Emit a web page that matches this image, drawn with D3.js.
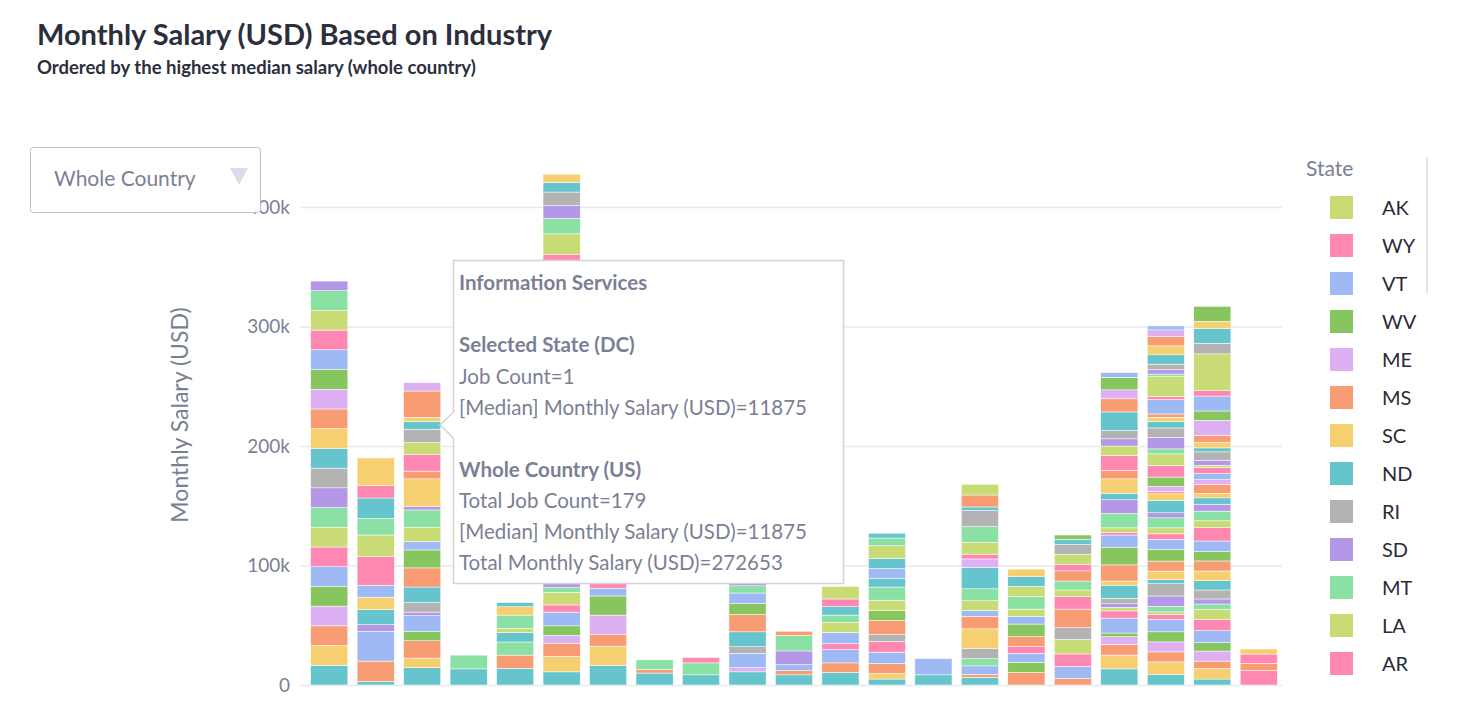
<!doctype html>
<html lang=en>
<head>
  <meta charset=utf-8>
  <title>Monthly Salary (USD) Based on Industry</title>
  <style>
    html, body { margin: 0; background: #fff; }
    body { font-family: Lato, "Noto Sans", sans-serif; }
    svg text { font-family: Lato, "Noto Sans", sans-serif; }
    .tick text { fill: #7b7f95; font-size: 19px; }
  </style>
  <script src="https://cdn.jsdelivr.net/npm/d3@7"></script>
</head>
<body>
<svg id=chart width=1458 height=723></svg>
<script>
  // trace order of states (bottom of stack first); colour cycles through the palette
  const states = ['CA','NY','TX','WA','MA','IL','NJ','VA','FL','GA','PA',
    'NC','CO','MD','OH','MI','MN','AZ','OR','TN','DC','UT',
    'WI','MO','IN','CT','KY','NV','OK','IA','KS','NE','AL',
    'NM','ID','NH','DE','HI','PR','AR','LA','MT','SD','RI',
    'ND','SC','MS','ME','WV','VT','WY','AK']
  const palette = ['#66c5cc','#f6cf71','#f89c74','#dcb0f2','#87c55f','#9eb9f3',
    '#fe88b1','#c9db74','#8be0a4','#b497e7','#b3b3b3']

  const industries = ['Legal','Pharmaceuticals','Information Services','Utilities',
    'Aerospace','Computer Software','Financial Services','Mining','Biotechnology',
    'Management Consulting','Research','Hardware','Internet','Oil & Energy',
    'Telecommunications','Semiconductors','Insurance','Banking','Health Care',
    'Information Technology','Education']

  const yTicks = [0, 100, 200, 300, 400]

  // [state, monthly salary in thousands USD], per industry
  const b1 = [['CA',16.5],['NY',16.5],['TX',16.5],['WA',16.5],['MA',16.5],['IL',16.5],['NJ',16.5],
    ['VA',16.5],['FL',16.5],['GA',16.5],['PA',16.5],['NC',16.5],['CO',16.5],['MD',16.5],['OH',16.5],
    ['MI',16.5],['MN',16.5],['AZ',16.5],['OR',16.5],['TN',16.5],['DC',8]]
  const b2 = [['CA',3],['TX',17],['IL',25],['GA',5.5],['NC',12.5],['CO',10.5],['MN',10],['AZ',24],
    ['OR',18],['TN',14],['WI',17],['OK',10.5],['ID',23]]
  const b3 = [['CA',14.5],['NY',8],['TX',14.5],['MA',8],['IL',13],['GA',3],['PA',8],['NC',13],
    ['MD',16],['MI',15],['MN',7],['OR',12],['TN',14.5],['DC',3],['MO',23],['IN',6.5],['OK',14],
    ['IA',10],['AL',11],['NM',6.5],['ID',3.5],['NH',22],['DE',7]]
  const b4 = [['CA',13.5],['FL',11.5]]
  const b5 = [['CA',14],['TX',11],['FL',11],['NC',8],['OR',3.5],['TN',11],['MO',7],['NM',3.5]]
  const b6 = [['CA',11],['NY',13],['TX',11],['WA',6.5],['MA',8],['IL',11.5],['NJ',6],['VA',10.5],
    ['FL',4],['GA',12],['PA',14],['NC',18],['CO',15],['MD',20],['OH',12],['MI',18],['MN',16],
    ['AZ',14],['OR',16],['TN',14],['DC',18],['UT',12],['WI',20],['MO',14],['IN',18],['CT',23],
    ['OK',5],['IA',17],['KS',13],['NE',11],['AL',11],['NM',8],['ID',7]]
  const b7 = [['CA',16.5],['NY',16],['TX',10],['WA',16],['MA',16],['IL',6.5],['NJ',12],['VA',10]]
  const b8 = [['CA',10],['TX',3],['FL',8]]
  const b9 = [['CA',8.5],['FL',10],['AZ',4.5]]
  const b10 = [['CA',11],['WA',3.5],['IL',12],['PA',5.5],['NC',12.5],['MD',14.5],['MI',9],['MN',9],
    ['TN',6],['DC',8],['UT',6]]
  const b11 = [['CA',8.5],['TX',3.5],['IL',5],['GA',11.5],['TN',13],['IN',3.5]]
  const b12 = [['CA',10.5],['TX',8],['IL',11],['NJ',5],['MN',9.5],['OR',8.5],['TN',6],['WI',7],
    ['OK',6.5],['IA',10.5]]
  const b13 = [['CA',5],['NY',4.5],['TX',8.5],['IL',9.5],['NJ',9],['PA',6],['MD',11.5],['MI',8.5],
    ['OR',8.5],['TN',11],['WI',7],['NV',8.5],['NM',8.5],['LA',10.5],['MT',6.5],['ND',4]]
  const b14 = [['CA',8.5],['IL',13.5]]
  const b15 = [['CA',6.5],['TX',2.5],['IL',7],['FL',6],['PA',8.5],['CO',16.5],['MD',10.5],['MN',5],
    ['OR',8],['TN',10],['WI',18],['CT',7],['OK',4],['IA',10],['KS',13],['AL',13.5],['NM',3],
    ['NH',10],['LA',9]]
  const b16 = [['TX',10.5],['MA',8.5],['IL',7.5],['NJ',5.5],['MD',8.5],['MI',10.5],['MN',6.5],
    ['OR',6],['TN',10.5],['IA',8.5],['NM',8.5],['ID',6]]
  const b17 = [['TX',5.5],['IL',10],['NJ',10.5],['VA',12],['PA',10],['MD',15.5],['AZ',10.5],
    ['OR',5.5],['TN',7.5],['IN',8.5],['OK',5.5],['IA',8.5],['AL',8],['NM',4.5],['HI',3.5]]
  const b18 = [['CA',13.5],['NY',11.5],['TX',9],['WA',6.5],['MA',3],['IL',12.5],['NJ',6],['VA',3],
    ['GA',3],['PA',4.5],['NC',11],['CO',3.5],['MD',13.5],['MI',14.5],['MN',10.5],['AZ',2],
    ['OR',4],['TN',12],['DC',11.5],['WI',5.5],['MO',12],['IN',7],['OK',12.5],['IA',8],['NE',6],
    ['AL',7],['NM',15.5],['NH',11],['DE',7.5],['HI',10.5],['PR',4]]
  const b19 = [['CA',9],['NY',10.3],['TX',8.4],['WA',8.4],['MA',8.4],['IL',10.3],['NJ',4.2],
    ['VA',2.2],['FL',4.7],['GA',8.6],['PA',10.3],['NC',3.3],['CO',7.2],['MD',8.4],['MI',9.7],
    ['MN',8.4],['AZ',4.7],['OR',5],['TN',8.4],['DC',4.2],['WI',10.3],['MO',5.6],['IN',2],
    ['CT',4.2],['KY',7.8],['OK',9.7],['IA',9.7],['KS',4.2],['NE',9.7],['AL',7.8],['NM',5.6],
    ['ID',3.3],['NH',2.8],['PR',12],['AR',2.5],['LA',16.7],['MT',2.2],['SD',3.6],['RI',4.7],
    ['ND',7.8],['SC',7.5],['MS',7.8],['ME',5.6],['VT',3.3]]
  const b20 = [['CA',5],['NY',8.9],['TX',6.1],['WA',8.4],['MA',7],['IL',10],['NJ',9.5],['VA',8.4],
    ['FL',4.5],['GA',4.2],['PA',7.5],['NC',7.8],['CO',8.1],['MD',8.4],['MI',7.8],['MN',8.9],
    ['AZ',11.1],['OR',5.8],['TN',8.1],['DC',5.8],['WI',5.3],['MO',3.6],['IN',7.8],['CT',3.9],
    ['NV',5],['OK',5],['IA',2],['NE',4.2],['AL',7],['NM',3.3],['ID',4.5],['NH',6.1],['DE',12.5],
    ['HI',7.8],['PR',12.5],['AR',4.7],['LA',30.6],['RI',8.9],['ND',12.5],['SC',5.8],['WV',12.5]]
  const b21 = [['NJ',12],['MD',6.1],['AZ',7.8],['MO',4.2]]
  const salaries = [b1,b2,b3,b4,b5,b6,b7,b8,b9,b10,b11,b12,b13,b14,b15,b16,b17,b18,b19,b20,b21]

  const legendStates = ['AK','WY','VT','WV','ME','MS','SC','ND','RI','SD','MT','LA','AR']

  const color = s => palette[states.indexOf(s) % palette.length]

  const svg = d3.select('#chart')
  const grey = '#7b7f95'

  const x = d3.scaleBand().domain(industries).range([306, 1282]).paddingInner(0.2).paddingOuter(0.1)
  const y = d3.scaleLinear().domain([0, 400]).range([685, 207])

  // grid + y axis
  svg.append('g')
    .attr('transform', 'translate(300,0)')
    .call(d3.axisLeft(y).tickValues(yTicks).tickSize(-982).tickFormat(d => d ? d + 'k' : '0'))
    .call(g => g.select('.domain').remove())
    .call(g => g.selectAll('.tick line').attr('stroke', '#e6e9f0').attr('stroke-width', 1.5))
    .call(g => g.selectAll('.tick text').attr('x', -10))

  // stacked bars
  const segs = []
  salaries.forEach((list, i) => {
    const sorted = list.slice().sort((a, b) => states.indexOf(a[0]) - states.indexOf(b[0]))
    let acc = 0
    for (const [s, v] of sorted) {
      segs.push({ ind: industries[i], s, y0: acc, y1: acc + v })
      acc += v
    }
  })
  svg.append('g').selectAll('rect').data(segs).join('rect')
    .attr('x', d => x(d.ind))
    .attr('width', x.bandwidth())
    .attr('y', d => y(d.y1))
    .attr('height', d => y(d.y0) - y(d.y1))
    .attr('fill', d => color(d.s))
    .attr('stroke', '#fff').attr('stroke-width', 0.5)

  // titles
  svg.append('text').attr('x', 37).attr('y', 45).attr('font-size', 29).attr('font-weight', 700)
    .attr('fill', '#2b2f3d').text('Monthly Salary (USD) Based on Industry')
  svg.append('text').attr('x', 37).attr('y', 74).attr('font-size', 18.5).attr('font-weight', 700)
    .attr('fill', '#2b2f3d').text('Ordered by the highest median salary (whole country)')
  svg.append('text').attr('transform', 'translate(188,415) rotate(-90)')
    .attr('text-anchor', 'middle').attr('font-size', 23).attr('fill', grey)
    .text('Monthly Salary (USD)')

  // dropdown
  svg.append('rect').attr('x', 30.5).attr('y', 147.5).attr('width', 230).attr('height', 65)
    .attr('rx', 3).attr('fill', '#fff').attr('stroke', '#b8c0ce')
  svg.append('text').attr('x', 54).attr('y', 186).attr('font-size', 21).attr('fill', grey)
    .text('Whole Country')
  svg.append('path').attr('d', 'M230,168 L248,168 L239,185 Z').attr('fill', '#d7deea')

  // legend
  svg.append('text').attr('x', 1306).attr('y', 176).attr('font-size', 21).attr('fill', grey).text('State')
  svg.append('line').attr('x1', 1427).attr('x2', 1427).attr('y1', 157).attr('y2', 293)
    .attr('stroke', '#c8c8cc')
  const leg = svg.append('g').selectAll('g').data(legendStates).join('g')
    .attr('transform', (d, i) => `translate(1330,${196 + i * 38})`)
  leg.append('rect').attr('width', 23).attr('height', 23).attr('fill', d => color(d))
  leg.append('text').attr('x', 52).attr('y', 19).attr('font-size', 20).attr('fill', '#2b2b38').text(d => d)

  // tooltip
  const tip = svg.append('g')
  tip.append('path')
    .attr('d', 'M453.5,260.5 H843.5 V583.5 H453.5 V438 L440,425 L453.5,412 Z')
    .attr('fill', '#fff').attr('stroke', '#d4d4d8').attr('stroke-width', 1.5)
  const lines = [
    ['Information Services', 290, true],
    ['Selected State (DC)', 352, true],
    ['Job Count=1', 384, false],
    ['[Median] Monthly Salary (USD)=11875', 415, false],
    ['Whole Country (US)', 477, true],
    ['Total Job Count=179', 508, false],
    ['[Median] Monthly Salary (USD)=11875', 539, false],
    ['Total Monthly Salary (USD)=272653', 570, false],
  ]
  tip.selectAll('text').data(lines).join('text')
    .attr('x', 459).attr('y', d => d[1]).attr('font-size', 20.5)
    .attr('font-weight', d => d[2] ? 700 : 400).attr('fill', grey).text(d => d[0])
</script>
</body>
</html>
